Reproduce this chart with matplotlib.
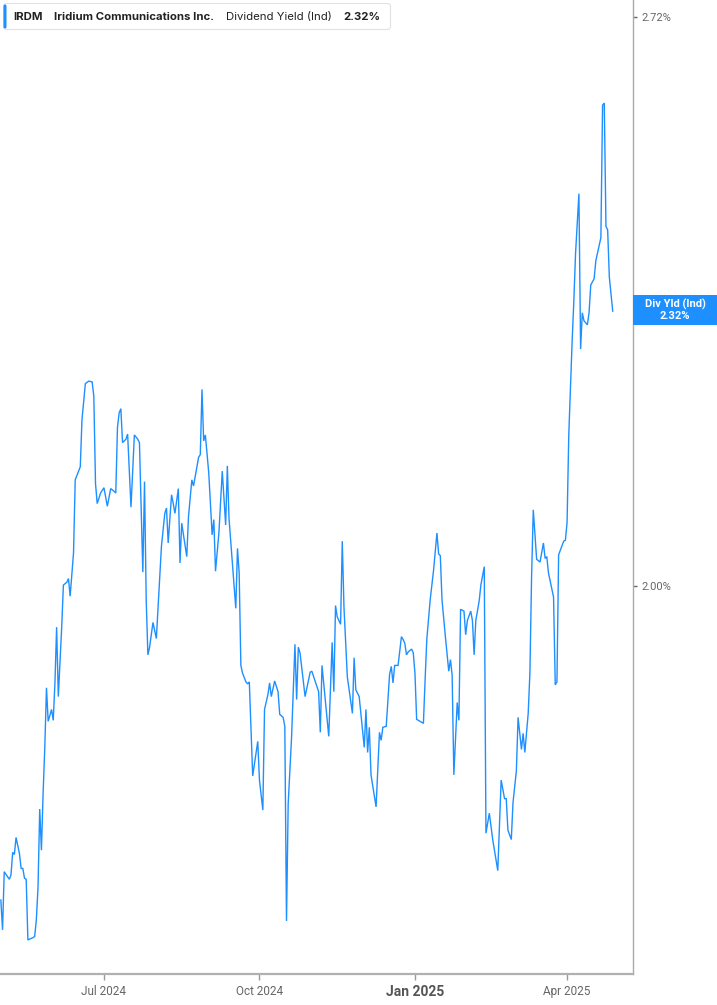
import matplotlib
matplotlib.use("Agg")
import matplotlib.pyplot as plt
from matplotlib.patches import FancyBboxPatch, Rectangle
from matplotlib.ticker import NullLocator, NullFormatter
from matplotlib import font_manager
import pandas as pd

# daily dividend yield (%)
dates = [
    "2024-05-01", "2024-05-02", "2024-05-03", "2024-05-06", "2024-05-07", "2024-05-08", "2024-05-09", "2024-05-10",
    "2024-05-12", "2024-05-13", "2024-05-14", "2024-05-15", "2024-05-16", "2024-05-17", "2024-05-20", "2024-05-21",
    "2024-05-22", "2024-05-23", "2024-05-24", "2024-05-25", "2024-05-26", "2024-05-27", "2024-05-28", "2024-05-29",
    "2024-05-31", "2024-06-01", "2024-06-02", "2024-06-03", "2024-06-04", "2024-06-06", "2024-06-07", "2024-06-09",
    "2024-06-10", "2024-06-11", "2024-06-13", "2024-06-14", "2024-06-17", "2024-06-18", "2024-06-20", "2024-06-22",
    "2024-06-24", "2024-06-25", "2024-06-26", "2024-06-27", "2024-06-29", "2024-07-01", "2024-07-03", "2024-07-05",
    "2024-07-07", "2024-07-08", "2024-07-09", "2024-07-10", "2024-07-11", "2024-07-12", "2024-07-14", "2024-07-15",
    "2024-07-17", "2024-07-19", "2024-07-21", "2024-07-22", "2024-07-24", "2024-07-25", "2024-07-26", "2024-07-27",
    "2024-07-28", "2024-07-30", "2024-08-01", "2024-08-03", "2024-08-04", "2024-08-06", "2024-08-07", "2024-08-08",
    "2024-08-10", "2024-08-11", "2024-08-12", "2024-08-14", "2024-08-15", "2024-08-16", "2024-08-19", "2024-08-20",
    "2024-08-22", "2024-08-23", "2024-08-26", "2024-08-27", "2024-08-28", "2024-08-29", "2024-08-30", "2024-09-01",
    "2024-09-03", "2024-09-04", "2024-09-05", "2024-09-07", "2024-09-09", "2024-09-11", "2024-09-12", "2024-09-13",
    "2024-09-17", "2024-09-18", "2024-09-19", "2024-09-20", "2024-09-21", "2024-09-23", "2024-09-24", "2024-09-25",
    "2024-09-27", "2024-09-30", "2024-10-01", "2024-10-03", "2024-10-04", "2024-10-06", "2024-10-07", "2024-10-08",
    "2024-10-10", "2024-10-12", "2024-10-13", "2024-10-15", "2024-10-16", "2024-10-17", "2024-10-18", "2024-10-20",
    "2024-10-22", "2024-10-23", "2024-10-24", "2024-10-25", "2024-10-28", "2024-10-31", "2024-11-01", "2024-11-05",
    "2024-11-06", "2024-11-07", "2024-11-11", "2024-11-13", "2024-11-14", "2024-11-15", "2024-11-16", "2024-11-18",
    "2024-11-19", "2024-11-20", "2024-11-22", "2024-11-25", "2024-11-26", "2024-11-27", "2024-11-29", "2024-12-02",
    "2024-12-03", "2024-12-04", "2024-12-05", "2024-12-06", "2024-12-09", "2024-12-11", "2024-12-12", "2024-12-13",
    "2024-12-15", "2024-12-17", "2024-12-18", "2024-12-19", "2024-12-20", "2024-12-22", "2024-12-24", "2024-12-25",
    "2024-12-26", "2024-12-27", "2024-12-28", "2024-12-30", "2024-12-31", "2025-01-01", "2025-01-02", "2025-01-04",
    "2025-01-06", "2025-01-07", "2025-01-08", "2025-01-10", "2025-01-12", "2025-01-14", "2025-01-15", "2025-01-16",
    "2025-01-17", "2025-01-19", "2025-01-21", "2025-01-22", "2025-01-23", "2025-01-24", "2025-01-26", "2025-01-27",
    "2025-01-28", "2025-01-30", "2025-01-31", "2025-02-01", "2025-02-03", "2025-02-04", "2025-02-05", "2025-02-06",
    "2025-02-08", "2025-02-09", "2025-02-11", "2025-02-12", "2025-02-14", "2025-02-16", "2025-02-19", "2025-02-21",
    "2025-02-23", "2025-02-24", "2025-02-25", "2025-02-27", "2025-02-28", "2025-03-02", "2025-03-03", "2025-03-05",
    "2025-03-06", "2025-03-07", "2025-03-09", "2025-03-10", "2025-03-11", "2025-03-12", "2025-03-14", "2025-03-16",
    "2025-03-18", "2025-03-19", "2025-03-20", "2025-03-21", "2025-03-24", "2025-03-25", "2025-03-26", "2025-03-27",
    "2025-03-30", "2025-03-31", "2025-04-01", "2025-04-02", "2025-04-04", "2025-04-05", "2025-04-06", "2025-04-08",
    "2025-04-09", "2025-04-10", "2025-04-11", "2025-04-13", "2025-04-14", "2025-04-15", "2025-04-17", "2025-04-18",
    "2025-04-21", "2025-04-22", "2025-04-23", "2025-04-24", "2025-04-25", "2025-04-26", "2025-04-28",
]
div_yield = [
    1.688, 1.661, 1.714, 1.707, 1.711, 1.732, 1.730, 1.746,
    1.731, 1.717, 1.717, 1.708, 1.707, 1.652, 1.654, 1.655,
    1.670, 1.700, 1.773, 1.734, 1.788, 1.833, 1.893, 1.859,
    1.871, 1.860, 1.898, 1.956, 1.884, 1.956, 2.001, 2.004,
    2.008, 1.989, 2.036, 2.118, 2.133, 2.188, 2.231, 2.234,
    2.233, 2.216, 2.114, 2.091, 2.103, 2.109, 2.088, 2.108,
    2.105, 2.103, 2.179, 2.196, 2.201, 2.161, 2.165, 2.171,
    2.087, 2.170, 2.165, 2.161, 2.015, 2.116, 1.985, 1.927,
    1.935, 1.961, 1.944, 2.010, 2.043, 2.080, 2.086, 2.047,
    2.101, 2.091, 2.080, 2.108, 2.025, 2.069, 2.032, 2.076,
    2.118, 2.111, 2.144, 2.147, 2.224, 2.163, 2.170, 2.126,
    2.056, 2.073, 2.016, 2.058, 2.128, 2.067, 2.134, 2.074,
    1.976, 2.041, 2.014, 1.916, 1.908, 1.899, 1.897, 1.899,
    1.805, 1.839, 1.801, 1.772, 1.871, 1.886, 1.898, 1.884,
    1.900, 1.889, 1.866, 1.863, 1.854, 1.669, 1.778, 1.843,
    1.938, 1.881, 1.935, 1.929, 1.884, 1.909, 1.910, 1.889,
    1.848, 1.916, 1.844, 1.940, 1.889, 1.979, 1.967, 1.959,
    2.049, 1.977, 1.904, 1.867, 1.924, 1.891, 1.884, 1.833,
    1.871, 1.828, 1.853, 1.806, 1.775, 1.848, 1.840, 1.853,
    1.854, 1.907, 1.915, 1.898, 1.916, 1.916, 1.946, 1.943,
    1.939, 1.927, 1.930, 1.933, 1.929, 1.908, 1.861, 1.859,
    1.857, 1.901, 1.943, 1.985, 2.017, 2.058, 2.035, 2.033,
    1.985, 1.946, 1.910, 1.922, 1.906, 1.806, 1.878, 1.860,
    1.975, 1.973, 1.948, 1.963, 1.973, 1.963, 1.927, 1.963,
    1.984, 2.001, 2.021, 1.750, 1.769, 1.744, 1.715, 1.801,
    1.783, 1.783, 1.753, 1.744, 1.779, 1.810, 1.863, 1.831,
    1.847, 1.828, 1.867, 1.908, 2.010, 2.084, 2.029, 2.026,
    2.047, 2.030, 2.032, 2.014, 1.988, 1.896, 1.899, 2.034,
    2.049, 2.050, 2.070, 2.170, 2.283, 2.333, 2.393, 2.472,
    2.273, 2.318, 2.308, 2.303, 2.318, 2.353, 2.361, 2.384,
    2.414, 2.593, 2.596, 2.429, 2.424, 2.363, 2.320,
]

ticker = "IRDM"
company = "Iridium Communications Inc."
metric = "Dividend Yield (Ind)"
last_label = "2.32%"
badge_title = "Div Yld (Ind)"

x_ticks = ["2024-07-01", "2024-10-01", "2025-01-01", "2025-04-01"]
x_tick_labels = ["Jul 2024", "Oct 2024", "Jan 2025", "Apr 2025"]
y_ticks = [2.00, 2.72]
y_tick_labels = ["2.00%", "2.72%"]

blue = "#1E8FFF"
names = {f.name for f in font_manager.fontManager.ttflist}
narrow = "Liberation Sans Narrow" if "Liberation Sans Narrow" in names else "Roboto"
ui = "Inter" if "Inter" in names else "DejaVu Sans"

W, H = 717, 1005
fig = plt.figure(figsize=(W / 100, H / 100), dpi=100)
ax = fig.add_axes([0, 31.5 / H, 633 / W, 973.5 / H])

ax.plot(pd.to_datetime(dates), div_yield, color=blue, lw=1.0, solid_joinstyle="miter")
ax.set_yscale("log")
ax.set_ylim(1.6223, 2.7446)
ax.set_xlim(pd.Timestamp("2024-04-30 12:00"), pd.Timestamp("2025-05-10"))

ax.yaxis.tick_right()
ax.yaxis.set_minor_locator(NullLocator())
ax.yaxis.set_minor_formatter(NullFormatter())
ax.set_yticks(y_ticks)
ax.set_yticklabels(y_tick_labels, family="Roboto")
ax.tick_params(axis="y", length=3, width=1, color="#666", pad=3, labelsize=8, labelcolor="#666")

ax.set_xticks(pd.to_datetime(x_ticks))
ax.set_xticklabels(x_tick_labels, family=narrow)
ax.xaxis.set_minor_locator(NullLocator())
ax.tick_params(axis="x", length=4, width=1, color="#999", pad=4, labelsize=8.5, labelcolor="#666")
for lab in ax.get_xticklabels():
    if lab.get_text() == "Jan 2025":
        lab.set_fontweight("bold")
        lab.set_fontsize(10)
        lab.set_color("#555")

for s in ["top", "left"]:
    ax.spines[s].set_visible(False)
ax.spines["right"].set_color("#aaa")
ax.spines["right"].set_linewidth(1)
ax.spines["bottom"].set_color("#b0b0b0")
ax.spines["bottom"].set_linewidth(1.6)

# overlay in pixel coordinates for the header and the value badge
ov = fig.add_axes([0, 0, 1, 1], zorder=5)
ov.set_xlim(0, W)
ov.set_ylim(H, 0)
ov.axis("off")

ov.add_patch(FancyBboxPatch((3.5, 3.5), 387, 26, boxstyle="round,pad=0,rounding_size=3",
                            fc="white", ec="#e2e2e2", lw=0.8))
ov.add_patch(FancyBboxPatch((3.5, 4.5), 3, 24, boxstyle="round,pad=0,rounding_size=1.5",
                            fc=blue, ec="none"))
ov.text(13, 16.5, ticker, fontsize=8.2, fontweight="bold", color="#222", va="center", family=ui)
ov.text(53.5, 16.5, company, fontsize=8.2, fontweight="bold", color="#222", va="center", family=ui)
ov.text(226, 16.5, metric, fontsize=8.2, color="#222", va="center", family=ui)
ov.text(343, 16.5, last_label, fontsize=8.2, fontweight="bold", color="#222", va="center", family=ui)

ov.add_patch(Rectangle((633, 295), 84, 29.5, fc=blue, ec="none"))
ov.text(675, 304.5, badge_title, fontsize=8, fontweight="bold", color="white",
        ha="center", va="center", family="Roboto")
ov.text(675, 315.5, last_label, fontsize=8, fontweight="bold", color="white",
        ha="center", va="center", family="Roboto")

fig.savefig("out.png", dpi=100)
